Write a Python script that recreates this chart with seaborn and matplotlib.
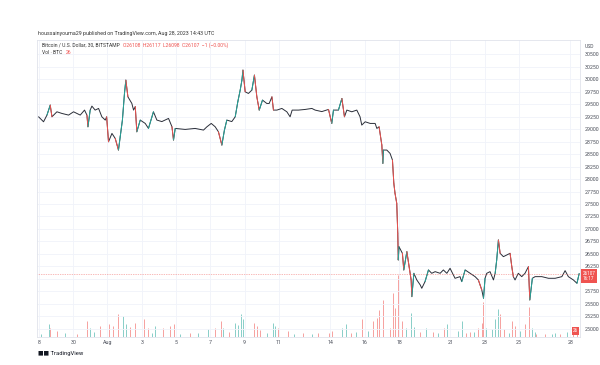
import numpy as np
import matplotlib.pyplot as plt
import seaborn as sns

# days since 2023-07-28 00:00, BTC/USD close (30m chart)
price_days = [-0.02, 0.27, 0.47, 0.66, 0.76, 1.05, 1.34, 1.73, 2.02, 2.41, 2.66, 2.80, 2.86, 2.99,
              3.09, 3.28, 3.48, 3.67, 3.87, 3.95, 4.06, 4.26, 4.45, 4.64, 4.74, 4.87, 4.99, 5.07,
              5.19, 5.42, 5.52, 5.62, 5.71, 5.91, 6.20, 6.39, 6.68, 6.88, 7.17, 7.56, 7.76, 7.85,
              7.95, 8.53, 9.11, 9.60, 9.80, 10.05, 10.28, 10.47, 10.67, 10.82, 10.96, 11.25, 11.45,
              11.60, 11.74, 11.84, 11.90, 12.03, 12.22, 12.42, 12.57, 12.71, 12.85, 13.04, 13.29,
              13.43, 13.59, 13.68, 13.88, 14.17, 14.46, 14.65, 14.77, 15.14, 15.53, 15.92, 16.11,
              16.50, 16.89, 17.08, 17.18, 17.47, 17.67, 17.82, 17.96, 18.25, 18.54, 18.73, 18.83,
              19.03, 19.32, 19.61, 19.71, 19.84, 20.00, 20.06, 20.09, 20.29, 20.48, 20.62, 20.70,
              20.77, 20.87, 20.93, 20.96, 21.00, 21.20, 21.28, 21.46, 21.59, 21.71, 21.75, 21.87,
              22.04, 22.24, 22.33, 22.52, 22.72, 22.91, 23.11, 23.40, 23.59, 23.79, 23.98, 24.17,
              24.27, 24.56, 24.66, 24.86, 25.15, 25.44, 25.63, 25.83, 25.93, 26.02, 26.12, 26.31,
              26.51, 26.61, 26.70, 26.80, 26.90, 27.09, 27.29, 27.48, 27.58, 27.67, 27.77, 27.96,
              28.16, 28.35, 28.55, 28.63, 28.78, 28.94, 29.33, 29.72, 30.11, 30.50, 30.69, 30.88,
              31.17, 31.38, 31.51]
prices = [29246, 29146, 29280, 29480, 29246, 29346, 29313, 29280, 29346, 29280, 29380, 29280, 29046, 29380,
          29460, 29380, 29413, 29246, 29180, 29246, 28746, 28913, 28813, 28580, 28846, 29180, 29713, 29980,
          29646, 29513, 29380, 29450, 28946, 29180, 29113, 29013, 29346, 29180, 29150, 29213, 29046, 28780,
          29013, 28993, 29013, 28980, 29046, 29113, 29046, 28946, 28680, 28980, 29180, 29150, 29246,
          29546, 29780, 29980, 30180, 29746, 29713, 29780, 30080, 29646, 29380, 29580, 29513,
          29513, 29646, 29380, 29380, 29413, 29346, 29246, 29380, 29380, 29393, 29413, 29380,
          29350, 29393, 29113, 29380, 29380, 29613, 29246, 29380, 29346, 29380, 29246, 29080,
          29146, 29113, 29113, 29013, 29046, 28680, 28313, 28580, 28580, 28513, 28380, 27913,
          27713, 27513, 26913, 26380, 26646, 26513, 26180, 26546, 26246, 25980, 25646, 26113,
          25980, 25880, 25813, 25946, 26180, 26113, 26146, 26113, 26180, 26113, 26213, 26080,
          26013, 26046, 25946, 26180, 26113, 26046, 25980, 25780, 25613, 26013, 26113, 26146,
          25980, 26113, 26380, 26780, 26513, 26446, 26480, 26513, 26246, 26046, 25980, 26113,
          26046, 26113, 26246, 25580, 26013, 26046, 26046, 26013, 26013, 26046, 26166, 26046,
          25980, 25913, 26107]

# volume (BTC) spikes, with candle direction
vol_days = [0.10, 0.56, 0.66, 1.05, 1.50, 2.20, 2.80, 2.99, 3.20, 3.57, 4.06, 4.35, 4.64, 4.93, 5.07,
            5.32, 5.62, 6.10, 6.39, 6.60, 6.78, 7.25, 7.66, 7.85, 8.20, 8.82, 9.30, 9.89, 10.28,
            10.64, 10.76, 11.10, 11.45, 11.62, 11.78, 11.90, 12.57, 12.71, 12.90, 13.30, 13.68,
            13.78, 13.95, 14.54, 14.90, 15.41, 15.90, 16.30, 16.89, 17.08, 17.67, 17.90, 18.20,
            18.50, 18.83, 19.20, 19.51, 19.71, 19.84, 20.04, 20.48, 20.64, 20.77, 20.93, 21.20,
            21.42, 21.71, 21.87, 22.20, 22.58, 22.99, 23.30, 23.63, 23.79, 24.45, 24.66, 24.90,
            25.15, 25.40, 25.63, 25.83, 25.93, 26.09, 26.43, 26.61, 26.76, 26.90, 27.12, 27.40,
            27.58, 27.77, 28.06, 28.35, 28.61, 28.77, 28.94, 29.00, 29.51, 29.90, 30.11, 30.40,
            30.79, 31.17, 31.40]
vol_btc = [30, 130, 90, 60, 40, 30, 160, 90, 50, 110, 130, 110, 230, 210, 130,
           100, 140, 180, 90, 40, 110, 90, 110, 130, 30, 40, 40, 80, 90,
           160, 90, 50, 140, 120, 230, 180, 140, 110, 70, 40, 140,
           110, 90, 60, 30, 40, 30, 40, 40, 60, 90, 130, 40,
           50, 180, 60, 160, 190, 270, 370, 90, 440, 290, 620, 160,
           90, 240, 100, 50, 90, 50, 40, 90, 130, 60, 160, 40,
           50, 50, 90, 140, 350, 90, 80, 180, 280, 230, 80, 40,
           160, 110, 60, 130, 300, 90, 50, 30, 30, 30, 40, 30,
           50, 60, 40]
vol_dir = ['g', 'g', 'r', 'r', 'g', 'r', 'r', 'g', 'g', 'r', 'r', 'r', 'r', 'g', 'g',
           'r', 'r', 'r', 'r', 'g', 'g', 'r', 'r', 'r', 'g', 'r', 'g', 'g', 'r',
           'r', 'g', 'r', 'g', 'g', 'g', 'g', 'r', 'r', 'r', 'g', 'g',
           'g', 'r', 'r', 'g', 'r', 'g', 'r', 'r', 'r', 'g', 'g', 'r',
           'g', 'r', 'g', 'r', 'r', 'r', 'r', 'r', 'r', 'r', 'r', 'r',
           'g', 'g', 'g', 'r', 'g', 'r', 'g', 'r', 'g', 'g', 'g', 'r',
           'r', 'g', 'r', 'r', 'r', 'g', 'g', 'g', 'g', 'r', 'r', 'g',
           'r', 'r', 'g', 'r', 'r', 'g', 'g', 'r', 'r', 'g', 'g', 'r',
           'g', 'r', 'r']

tick_days = [0, 2, 4, 6, 8, 10, 12, 14, 17, 19, 21, 24, 26, 28, 31]
tick_labels = ["8", "30", "Aug", "3", "5", "7", "9", "11", "14", "16", "18", "21", "23", "25", "28"]
price_ticks = list(range(25000, 30501, 250))
last_close = 26107

UP, DOWN, INK, GRID, TXT = "#26a69a", "#ef5350", "#2a2e39", "#f0f3fa", "#4a4e59"

sns.set_style("white")
plt.rcParams['font.family'] = ['Roboto', 'DejaVu Sans']

fig = plt.figure(figsize=(6, 3.65), dpi=100)
ax = fig.add_axes([0.062, 0.077, 0.905, 0.813])

# volume underneath, on its own scale
ax2 = ax.twinx()
vcol = [UP if d == 'g' else DOWN for d in vol_dir]
ax2.vlines(vol_days, 0, vol_btc, colors=vcol, lw=0.7, alpha=0.55)
ax2.set_ylim(0, 2970)
ax2.axis('off')
ax.set_zorder(ax2.get_zorder() + 1)
ax.patch.set_visible(False)

sns.lineplot(x=price_days, y=prices, ax=ax, color=INK, lw=0.7)
# tint the big candles
for i in range(1, len(prices)):
    d = prices[i] - prices[i - 1]
    if abs(d) >= 180:
        ax.plot(price_days[i - 1:i + 1], prices[i - 1:i + 1], color=UP if d > 0 else DOWN, lw=0.7)

ax.axhline(last_close, color=DOWN, lw=0.5, ls=(0, (1, 1.5)), alpha=0.8)

ax.set_xlim(-0.1, 31.57)
ax.set_ylim(24840, 30780)
ax.set_xticks(tick_days)
ax.set_xticklabels(tick_labels)
ax.set_yticks(price_ticks)
# the 26000 label sits under the last-price tag
ax.set_yticklabels(["" if p == 26000 else str(p) for p in price_ticks])
ax.yaxis.tick_right()
ax.tick_params(axis='both', length=0, labelsize=3.8, colors=TXT, pad=2)
ax.tick_params(axis='y', pad=3)
ax.grid(True, color=GRID, lw=0.6)
for s in ['top', 'left', 'right', 'bottom']:
    ax.spines[s].set_color('#e0e3eb')
    ax.spines[s].set_linewidth(0.6)

# price label on the axis
ax.text(1.004, (last_close - 24840) / (30780 - 24840) - 0.008, "26107\n16:17", transform=ax.transAxes,
        fontsize=3.3, color='white', ha='left', va='center', linespacing=1.1,
        bbox=dict(boxstyle='square,pad=0.35', fc=DOWN, ec='none'))
ax.text(0.996, 0.012, "26", transform=ax.transAxes, fontsize=3.3, color='white',
        ha='right', va='bottom', bbox=dict(boxstyle='square,pad=0.3', fc=DOWN, ec='none'))
ax.text(1.008, 1.0 - 0.02, "USD", transform=ax.transAxes, fontsize=3.6, color=TXT,
        ha='left', va='center')

fig.text(0.064, 0.905, "houssainyouma29 published on TradingView.com, Aug 28, 2023 14:43 UTC",
         fontsize=3.8, color='#333333')
fig.text(0.07, 0.872, "Bitcoin / U.S. Dollar, 30, BITSTAMP", fontsize=3.6, color='#333333')
fig.text(0.205, 0.872, "O26108  H26117  L26098  C26107  \u22121 (\u22120.00%)", fontsize=3.6, color=DOWN)
fig.text(0.07, 0.853, "Vol \u00b7 BTC", fontsize=3.6, color='#333333')
fig.text(0.11, 0.853, "26", fontsize=3.6, color=DOWN)
fig.text(0.064, 0.027, "\u25a0\u25a0 TradingView", fontsize=4.2, color='#131722')

plt.savefig("out.png", dpi=100, facecolor='white')
